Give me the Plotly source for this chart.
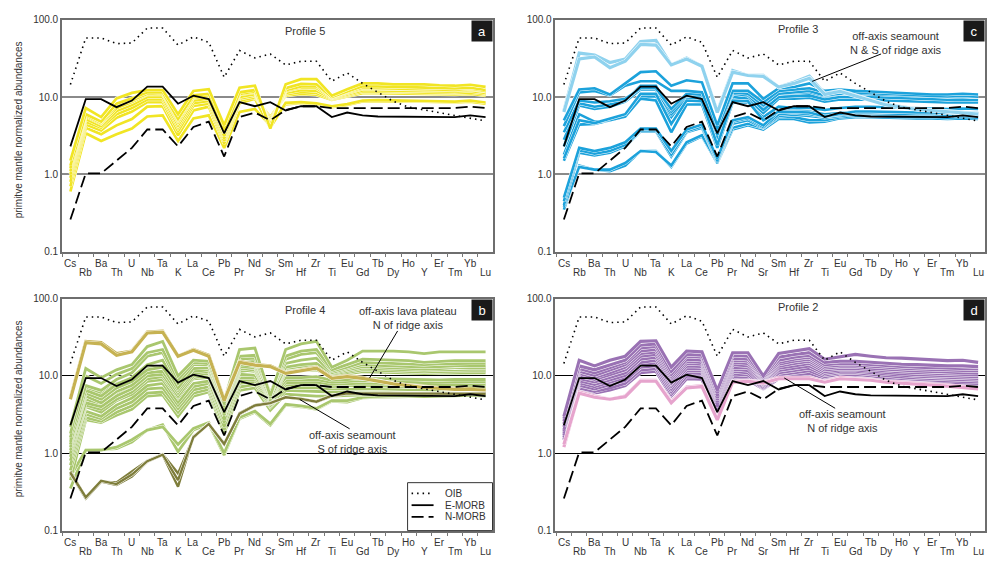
import plotly.graph_objects as go

ELEMENTS = ["Cs", "Rb", "Ba", "Th", "U", "Nb", "Ta", "K", "La", "Ce", "Pb", "Pr", "Nd", "Sr",
            "Sm", "Hf", "Zr", "Ti", "Eu", "Gd", "Tb", "Dy", "Ho", "Y", "Er", "Tm", "Yb", "Lu"]

OIB = [14.5, 58, 58, 49, 50, 78, 78, 47, 60, 51, 18, 40, 32, 36, 26, 29, 29, 16, 20.5, 15,
       11.5, 8.8, 7.4, 6.8, 6.3, 5.8, 5.3, 4.9]
EMORB = [2.3, 9.4, 9.4, 7.4, 9.0, 13.6, 13.6, 8.2, 10.4, 9.4, 3.4, 8.6, 7.6, 8.6, 6.7, 7.6, 7.6,
         5.5, 6.3, 5.8, 5.6, 5.6, 5.6, 5.6, 5.6, 5.5, 5.8, 5.5]
NMORB = [0.26, 1.03, 1.03, 1.5, 2.2, 3.8, 3.8, 2.3, 4.1, 4.8, 1.7, 5.5, 6.3, 5.0, 6.8, 7.6, 7.6,
         7.2, 7.2, 7.3, 7.3, 7.3, 7.3, 7.3, 7.3, 7.2, 7.5, 7.2]

# Panel a - Profile 5
PROFILE5 = [
    [0.6, 3.4, 2.7, 3.3, 3.9, 5.6, 5.8, 2.7, 5.3, 5.8, 2.2, 6.4, 7.0, 4.3, 8.0, 8.4, 8.1, 7.4, 7.9, 8.8, 8.8, 8.7, 8.7, 8.7, 8.6, 8.5, 8.7, 8.2],
    [0.7, 4.0, 3.3, 4.3, 5.2, 7.5, 7.6, 3.2, 6.7, 7.5, 2.5, 8.3, 9.5, 4.0, 8.4, 8.6, 8.3, 7.6, 8.1, 9.0, 9.1, 9.0, 9.0, 8.9, 8.8, 8.7, 9.0, 8.5],
    [0.8, 4.4, 3.7, 5.4, 6.5, 8.6, 8.6, 3.6, 7.7, 8.2, 2.7, 9.0, 9.9, 5.5, 10.4, 11.0, 10.7, 9.2, 10.2, 11.2, 11.2, 11.1, 11.0, 10.9, 10.8, 10.8, 11.0, 10.5],
    [0.9, 4.8, 4.0, 6.0, 7.2, 9.3, 9.3, 4.0, 8.3, 8.9, 2.9, 9.5, 10.4, 5.2, 10.8, 11.6, 11.3, 9.4, 10.5, 11.7, 11.7, 11.6, 11.5, 11.4, 11.3, 11.2, 11.5, 10.9],
    [1.0, 5.2, 4.2, 6.6, 7.9, 10.0, 10.0, 4.3, 9.0, 9.6, 3.1, 10.0, 10.9, 4.9, 11.3, 12.3, 12.0, 9.6, 10.8, 12.2, 12.2, 12.0, 12.0, 11.9, 11.8, 11.7, 12.0, 11.3],
    [1.1, 5.6, 4.5, 7.2, 8.6, 10.8, 10.8, 4.7, 9.7, 10.3, 3.4, 10.8, 11.5, 4.6, 12.0, 13.3, 13.0, 9.8, 11.2, 12.8, 12.8, 12.6, 12.6, 12.5, 12.3, 12.2, 12.5, 11.8],
    [1.2, 5.8, 4.6, 7.8, 9.0, 11.0, 11.2, 5.0, 10.0, 10.6, 3.5, 11.0, 11.8, 4.4, 12.3, 13.7, 13.8, 10.0, 11.5, 13.2, 13.0, 12.9, 12.8, 12.7, 12.5, 12.4, 12.8, 12.0],
    [1.3, 6.0, 4.8, 8.2, 9.6, 11.5, 11.5, 5.2, 10.5, 11.0, 3.7, 11.5, 12.3, 4.3, 13.0, 14.8, 14.6, 10.0, 11.8, 13.8, 13.7, 13.5, 13.4, 13.3, 13.0, 12.9, 13.2, 12.4],
    [1.5, 7.2, 5.5, 9.6, 11.3, 12.3, 12.3, 6.0, 12.0, 12.6, 4.3, 13.2, 14.0, 3.9, 14.6, 17.0, 17.0, 10.4, 12.6, 15.0, 15.0, 14.6, 14.6, 14.6, 14.2, 14.0, 14.4, 13.5],
]

# Panel c - Profile 3
PROFILE3 = [
    [0.35, 1.3, 1.15, 1.1, 1.3, 2.0, 2.0, 1.25, 2.5, 3.1, 1.4, 3.8, 4.3, 3.8, 5.2, 5.2, 4.7, 4.8, 5.3, 5.5, 5.5, 5.4, 5.4, 5.3, 5.3, 5.2, 5.3, 5.2],
    [0.38, 1.25, 1.15, 1.15, 1.4, 2.0, 1.95, 1.3, 2.6, 3.2, 1.45, 4.0, 4.5, 4.0, 5.5, 5.5, 5.0, 5.0, 5.5, 5.7, 5.7, 5.6, 5.6, 5.5, 5.5, 5.4, 5.5, 5.4],
    [0.4, 1.9, 1.75, 1.9, 2.3, 3.6, 3.6, 1.7, 3.5, 4.0, 1.45, 4.5, 5.0, 4.0, 5.7, 5.9, 5.7, 5.4, 5.7, 6.0, 6.0, 5.9, 5.9, 5.8, 5.8, 5.7, 5.8, 5.7],
    [0.45, 2.05, 1.85, 2.0, 2.4, 3.7, 3.7, 1.8, 3.6, 4.2, 1.5, 4.8, 5.3, 4.1, 6.0, 6.2, 6.0, 5.6, 5.9, 6.2, 6.2, 6.1, 6.1, 6.0, 6.0, 5.9, 6.0, 5.9],
    [0.5, 2.2, 2.0, 2.2, 2.6, 3.9, 3.9, 2.0, 3.8, 4.4, 1.6, 5.0, 5.5, 4.3, 6.5, 6.8, 6.5, 6.0, 6.2, 6.5, 6.5, 6.4, 6.4, 6.3, 6.3, 6.2, 6.3, 6.2],
    [1.5, 4.4, 4.5, 5.0, 5.6, 10.2, 10.2, 5.5, 10.0, 9.7, 2.6, 10.5, 10.0, 7.2, 11.0, 11.0, 11.0, 9.8, 10.5, 10.8, 10.6, 10.4, 10.3, 10.1, 10.0, 9.9, 10.0, 9.8],
    [1.8, 6.0, 4.8, 5.0, 5.6, 9.5, 9.0, 3.5, 8.0, 8.0, 2.2, 8.5, 8.5, 5.5, 7.5, 7.2, 7.3, 6.8, 7.2, 7.5, 7.5, 7.4, 7.3, 7.2, 7.1, 7.0, 7.1, 7.0],
    [2.3, 7.8, 7.0, 7.5, 8.7, 12.5, 12.5, 6.0, 9.5, 9.3, 2.9, 10.0, 9.5, 6.2, 9.5, 9.5, 9.8, 8.7, 9.3, 9.3, 9.2, 9.0, 8.9, 8.7, 8.6, 8.5, 8.6, 8.5],
    [2.8, 8.3, 7.5, 8.0, 9.0, 14.0, 14.0, 6.5, 10.5, 10.0, 3.2, 11.0, 10.5, 6.8, 10.0, 10.2, 10.5, 9.3, 10.0, 10.2, 10.0, 9.8, 9.6, 9.4, 9.3, 9.2, 9.3, 9.1],
    [3.5, 9.0, 8.5, 8.8, 9.5, 13.0, 13.0, 7.0, 11.0, 10.7, 3.5, 11.5, 11.0, 7.8, 11.0, 11.5, 12.0, 10.5, 11.0, 11.0, 10.8, 10.6, 10.5, 10.3, 10.2, 10.1, 10.2, 10.0],
    [1.6, 5.0, 4.6, 5.2, 6.0, 11.0, 11.0, 4.5, 9.0, 8.8, 2.4, 9.0, 8.8, 5.0, 6.5, 6.4, 6.3, 5.6, 6.0, 6.5, 6.5, 6.4, 6.4, 6.3, 6.3, 6.2, 6.3, 6.2],
    [4.2, 11.5, 12.0, 10.5, 14.0, 16.0, 16.0, 12.0, 12.0, 11.5, 3.9, 12.0, 12.0, 8.5, 12.0, 12.5, 13.0, 11.5, 12.0, 11.5, 11.2, 11.0, 10.8, 10.5, 10.3, 10.2, 10.3, 10.1],
    [5.0, 12.5, 13.0, 10.8, 15.0, 21.0, 21.5, 14.0, 16.5, 15.5, 4.3, 15.0, 15.0, 9.5, 13.0, 13.5, 15.0, 12.0, 12.5, 12.0, 11.8, 11.5, 11.3, 11.0, 10.8, 10.8, 11.0, 10.8],
]
PROFILE3_SEAMOUNT = [
    [6.6, 37, 35, 28, 31, 52, 54, 26, 32, 25, 6.5, 22, 19, 19, 13.5, 15.5, 18.6, 11.0, 12.0, 10.5, 9.0, 8.0, 7.5, 7.0, 6.8, 6.6, 6.4, 6.1],
    [6.4, 31, 33, 24, 29, 48, 47, 26, 31, 25, 6.3, 21, 19, 18.5, 13.5, 15.0, 17.5, 10.8, 11.8, 10.3, 8.9, 7.9, 7.4, 6.9, 6.7, 6.5, 6.3, 6.0],
]

# Panel b - Profile 4
PROFILE4 = [
    [0.35, 1.1, 1.12, 1.15, 1.4, 2.0, 2.35, 1.05, 2.0, 2.4, 0.95, 2.8, 3.4, 2.3, 4.2, 4.0, 3.7, 4.7, 4.6, 5.2, 5.3, 5.4, 5.4, 5.4, 5.5, 5.5, 5.6, 5.5],
    [0.5, 1.1, 1.1, 1.2, 1.5, 2.0, 2.2, 1.3, 2.1, 2.5, 1.0, 2.9, 3.5, 2.4, 4.3, 4.1, 3.8, 4.8, 4.8, 5.3, 5.4, 5.5, 5.5, 5.5, 5.6, 5.6, 5.7, 5.6],
    [0.45, 2.7, 2.5, 3.1, 3.7, 5.5, 5.7, 3.0, 5.5, 6.2, 1.8, 6.5, 7.0, 3.6, 5.8, 5.6, 5.5, 5.5, 5.6, 5.7, 5.6, 5.6, 5.5, 5.4, 5.5, 5.5, 5.6, 5.6],
    [0.6, 2.9, 2.6, 3.4, 4.1, 6.0, 6.2, 3.4, 6.0, 6.7, 2.0, 7.2, 7.8, 4.0, 6.5, 6.4, 6.3, 6.2, 6.3, 6.3, 6.2, 6.1, 6.0, 5.9, 5.9, 6.0, 6.0, 6.0],
    [0.7, 3.2, 2.8, 3.8, 4.6, 6.8, 7.0, 3.8, 6.6, 7.3, 2.2, 8.0, 8.5, 4.2, 7.0, 7.0, 7.0, 6.8, 6.9, 6.9, 6.8, 6.7, 6.6, 6.5, 6.5, 6.6, 6.6, 6.6],
    [0.8, 3.5, 3.0, 4.2, 5.2, 7.5, 8.0, 4.2, 7.3, 8.0, 2.5, 8.8, 9.0, 4.5, 7.6, 7.6, 7.6, 7.3, 7.5, 7.5, 7.4, 7.3, 7.2, 7.1, 7.1, 7.2, 7.2, 7.2],
    [0.9, 4.0, 3.4, 4.8, 5.8, 8.5, 9.0, 4.6, 8.0, 8.6, 2.7, 9.5, 9.6, 4.8, 8.2, 8.2, 8.3, 7.8, 8.0, 8.1, 8.0, 7.9, 7.8, 7.6, 7.7, 7.8, 7.8, 7.8],
    [1.2, 5.0, 4.2, 6.0, 7.0, 10.0, 10.5, 5.5, 9.2, 9.6, 3.0, 10.5, 10.2, 5.1, 8.8, 8.8, 9.0, 8.3, 8.5, 8.7, 8.6, 8.5, 8.4, 8.2, 8.3, 8.4, 8.4, 8.4],
    [1.5, 7.0, 6.0, 8.0, 9.0, 12.5, 13.5, 6.8, 11.5, 11.5, 3.6, 12.0, 11.5, 5.4, 9.5, 9.5, 9.8, 8.8, 9.0, 9.3, 9.2, 9.1, 9.0, 8.8, 8.9, 9.0, 9.0, 9.0],
    [1.0, 4.2, 3.7, 5.0, 6.2, 9.2, 9.8, 5.2, 9.5, 10.2, 3.1, 11.5, 12.0, 4.6, 11.2, 11.8, 12.0, 9.9, 10.6, 11.4, 11.2, 11.1, 11.0, 10.7, 10.9, 11.0, 11.0, 11.0],
    [1.1, 4.5, 4.0, 5.5, 6.8, 10.0, 10.5, 5.5, 10.0, 10.8, 3.3, 12.2, 12.8, 4.8, 12.0, 12.5, 12.8, 10.2, 11.0, 12.0, 11.8, 11.6, 11.5, 11.2, 11.4, 11.6, 11.6, 11.6],
    [1.2, 5.5, 4.5, 6.3, 7.6, 11.0, 11.5, 6.0, 10.8, 11.5, 3.5, 13.0, 13.5, 5.0, 12.5, 13.2, 13.5, 10.5, 11.5, 12.6, 12.4, 12.2, 12.0, 11.8, 12.0, 12.2, 12.2, 12.2],
    [1.3, 6.0, 5.0, 7.0, 8.5, 12.0, 13.0, 6.5, 11.5, 12.0, 3.8, 14.0, 14.5, 5.2, 13.0, 14.0, 14.5, 10.8, 12.0, 13.2, 13.0, 12.8, 12.6, 12.3, 12.5, 12.8, 12.8, 12.8],
    [1.4, 6.5, 5.5, 7.8, 9.5, 14.0, 16.0, 7.0, 12.5, 12.8, 4.0, 15.0, 15.5, 5.8, 14.5, 16.0, 17.0, 11.0, 12.5, 14.0, 13.7, 13.5, 13.3, 13.0, 13.2, 13.5, 13.5, 13.5],
    [1.6, 7.5, 6.5, 9.0, 11.0, 18.0, 20.0, 8.0, 14.0, 14.0, 4.2, 16.5, 17.0, 5.5, 16.5, 19.0, 20.0, 11.5, 13.0, 15.0, 14.8, 14.6, 14.5, 14.0, 14.3, 14.6, 14.6, 14.6],
    [1.8, 10.0, 8.0, 10.5, 12.5, 20.0, 22.0, 9.0, 15.0, 14.5, 4.4, 18.0, 18.5, 6.0, 18.0, 21.0, 22.0, 12.0, 14.0, 16.5, 16.3, 16.0, 15.8, 15.0, 15.5, 15.8, 15.8, 15.8],
    [2.2, 12.5, 9.5, 12.0, 14.0, 24.0, 28.0, 10.0, 16.0, 15.5, 4.8, 22.0, 23.0, 5.5, 22.0, 26.0, 28.0, 13.0, 16.0, 21.0, 21.0, 21.0, 20.5, 19.5, 20.5, 20.5, 20.5, 20.5],
]
PROFILE4_PLATEAU = [
    [5.2, 28, 27, 19.5, 21, 37, 38, 18, 22, 18.5, 5.0, 15.5, 14, 13.5, 11.0, 12.0, 13.0, 9.5, 10.0, 9.5, 8.6, 8.0, 7.6, 7.2, 7.0, 6.8, 6.8, 6.6],
    [5.0, 27, 26, 18.5, 20.5, 36, 37, 18, 21.5, 18, 4.8, 15.0, 13.8, 13.2, 10.8, 11.8, 12.6, 9.3, 9.8, 9.3, 8.5, 7.9, 7.5, 7.1, 6.9, 6.7, 6.7, 6.5],
]
PROFILE4_SEAMOUNT = [
    [0.58, 0.27, 0.43, 0.42, 0.58, 0.80, 0.97, 0.55, 1.6, 2.4, 1.35, 3.2, 4.1, 4.4, 5.3, 5.1, 4.7, 5.6, 6.0, 6.0, 6.0, 6.0, 6.0, 6.0, 6.0, 6.0, 6.1, 6.0],
    [0.55, 0.26, 0.43, 0.39, 0.50, 0.78, 0.95, 0.37, 1.65, 2.4, 1.30, 3.3, 4.2, 4.5, 5.3, 5.0, 4.6, 5.5, 5.9, 5.9, 5.9, 5.9, 5.9, 5.9, 5.9, 5.9, 6.0, 5.9],
    [0.56, 0.27, 0.44, 0.40, 0.53, 0.79, 0.96, 0.45, 1.62, 2.4, 1.32, 3.25, 4.15, 4.45, 5.3, 5.05, 4.65, 5.55, 5.95, 5.95, 5.9, 5.9, 5.9, 5.9, 5.9, 5.9, 6.0, 5.9],
]

# Panel d - Profile 2
PROFILE2 = [
    [1.5, 6.6, 6.0, 6.6, 7.5, 11.0, 11.5, 5.5, 9.2, 9.1, 2.8, 9.0, 8.9, 6.8, 9.2, 9.5, 10.0, 8.8, 9.6, 9.6, 9.2, 8.8, 8.5, 8.2, 8.0, 7.9, 7.8, 7.6],
    [1.5, 7.0, 6.3, 7.0, 8.0, 12.0, 12.4, 5.8, 10.0, 9.9, 3.1, 9.8, 9.6, 6.9, 9.7, 10.2, 10.8, 9.3, 10.0, 10.0, 9.6, 9.2, 8.9, 8.6, 8.4, 8.2, 8.1, 8.0],
    [1.6, 7.6, 6.8, 7.7, 8.8, 13.0, 13.6, 6.3, 11.0, 10.8, 3.4, 10.6, 10.3, 7.1, 10.3, 11.0, 11.7, 9.8, 10.5, 10.5, 10.0, 9.6, 9.3, 9.0, 8.8, 8.6, 8.5, 8.4],
    [1.7, 8.2, 7.3, 8.3, 9.5, 14.0, 14.8, 6.8, 11.7, 11.6, 3.7, 11.4, 11.0, 7.4, 11.0, 11.8, 12.6, 10.3, 11.0, 11.0, 10.5, 10.0, 9.7, 9.4, 9.2, 9.0, 8.9, 8.8],
    [1.8, 8.7, 7.8, 9.0, 10.2, 15.0, 16.0, 7.4, 12.5, 12.4, 4.0, 12.2, 11.8, 7.7, 11.8, 12.6, 13.5, 10.8, 11.5, 11.5, 11.0, 10.5, 10.2, 9.9, 9.7, 9.5, 9.4, 9.3],
    [1.9, 9.3, 8.4, 9.6, 11.0, 16.5, 17.5, 8.0, 13.5, 13.3, 4.3, 13.0, 12.7, 8.0, 12.6, 13.5, 14.5, 11.4, 12.0, 12.0, 11.5, 11.0, 10.7, 10.4, 10.2, 10.0, 9.9, 9.8],
    [2.0, 10.0, 9.0, 10.3, 12.0, 18.0, 19.0, 8.6, 14.5, 14.2, 4.6, 14.0, 13.6, 8.3, 13.4, 14.5, 15.5, 12.0, 12.5, 12.5, 12.0, 11.6, 11.3, 11.0, 10.8, 10.6, 10.5, 10.3],
    [2.2, 10.8, 9.6, 11.0, 13.0, 19.5, 20.5, 9.2, 15.5, 15.0, 4.9, 15.0, 14.5, 8.6, 14.2, 15.5, 16.5, 12.6, 13.2, 13.2, 12.6, 12.2, 11.9, 11.6, 11.4, 11.2, 11.1, 10.9],
    [2.4, 11.5, 10.2, 12.0, 14.0, 21.0, 22.0, 9.8, 16.5, 16.0, 5.2, 16.0, 15.5, 8.9, 15.0, 16.5, 17.5, 13.3, 13.8, 13.8, 13.3, 13.0, 12.6, 12.3, 12.1, 11.9, 11.8, 11.6],
    [2.6, 12.5, 11.0, 13.0, 15.0, 23.0, 24.0, 10.5, 18.0, 17.5, 5.6, 17.0, 16.5, 9.2, 16.0, 17.5, 18.5, 14.0, 14.5, 14.5, 14.0, 13.7, 13.3, 13.0, 12.8, 12.6, 12.5, 12.3],
    [2.8, 13.5, 12.0, 14.0, 16.0, 25.0, 26.0, 11.5, 19.0, 18.5, 6.0, 18.5, 18.0, 9.5, 17.5, 19.0, 20.0, 15.0, 15.5, 15.5, 15.0, 14.5, 14.2, 14.0, 13.7, 13.5, 13.5, 13.2],
    [3.0, 16.0, 13.5, 16.0, 18.0, 28.0, 28.5, 13.0, 21.0, 20.5, 6.5, 20.0, 20.0, 10.0, 19.5, 21.0, 22.5, 16.5, 17.5, 19.0, 18.0, 17.2, 17.0, 16.7, 16.3, 15.8, 16.0, 15.0],
]
PROFILE2_SEAMOUNT = [
    [1.2, 6.2, 5.5, 5.0, 5.5, 8.8, 8.8, 4.7, 7.2, 7.5, 2.8, 8.5, 8.7, 8.3, 9.5, 9.5, 9.5, 8.5, 9.5, 9.2, 9.0, 8.5, 8.2, 8.0, 7.8, 7.6, 7.3, 7.0],
    [1.3, 6.0, 5.3, 5.0, 5.4, 8.6, 8.6, 4.5, 7.0, 7.3, 2.7, 8.3, 8.5, 8.1, 9.2, 9.2, 9.2, 8.3, 9.2, 9.0, 8.8, 8.3, 8.0, 7.8, 7.6, 7.4, 7.1, 6.8],
]

LEGEND_NAMES = ["OIB", "E-MORB", "N-MORB"]

W, H = 987, 565
FONT = "Liberation Sans, Arial, sans-serif"


def px_x(x):
    return x / W


def px_y(y):
    return (H - y) / H


PANELS = {
    # key: (axis suffix, x px range, y px range, title, gridcolor, gridwidth)
    "a": ("", (62, 493), (14, 251), "Profile 5", "#8a8a8a", 2),
    "c": ("2", (556, 986), (14, 251), "Profile 3", "#8a8a8a", 2),
    "b": ("3", (62, 493), (299, 536), "Profile 4", "#000000", 1),
    "d": ("4", (556, 986), (299, 536), "Profile 2", "#000000", 1),
}

GROUPS = {
    "a": [(PROFILE5, "#F1E524", 2.7)],
    "c": [(PROFILE3, "#1CA2DB", 2.6), (PROFILE3_SEAMOUNT, "#8FD2EE", 3.2)],
    "b": [(PROFILE4, "#A9C76E", 2.8), (PROFILE4_PLATEAU, "#C6B252", 3.2),
          (PROFILE4_SEAMOUNT, "#7E7D3B", 2.4)],
    "d": [(PROFILE2, "#9A72B4", 3.1), (PROFILE2_SEAMOUNT, "#E6A4CD", 3.2)],
}

REF_STYLES = [
    (OIB, dict(color="black", width=1.6, dash="1.5px,4px")),
    (EMORB, dict(color="black", width=1.8)),
    (NMORB, dict(color="black", width=1.8, dash="12px,5px")),
]

fig = go.Figure()
annotations = []
shapes = []
layout = {}


def txt(text, x, y, size=11, **kw):
    d = dict(text=text, xref="paper", yref="paper", x=px_x(x), y=px_y(y),
             xanchor="center", yanchor="middle", showarrow=False,
             font=dict(size=size, color="#333", family=FONT))
    d.update(kw)
    return d


for key, (sfx, (x0, x1), (y0, y1), title, gcol, gw) in PANELS.items():
    xa, ya = "x" + sfx, "y" + sfx
    for lines, color, width in GROUPS[key]:
        for vals in lines:
            fig.add_trace(go.Scatter(x=ELEMENTS, y=vals, xaxis=xa, yaxis=ya, mode="lines",
                                     line=dict(color="white", width=width + 0.9),
                                     showlegend=False, hoverinfo="skip"))
            fig.add_trace(go.Scatter(x=ELEMENTS, y=vals, xaxis=xa, yaxis=ya, mode="lines",
                                     line=dict(color=color, width=width),
                                     showlegend=False))
    for (vals, st), name in zip(REF_STYLES, LEGEND_NAMES):
        fig.add_trace(go.Scatter(x=ELEMENTS, y=vals, xaxis=xa, yaxis=ya, mode="lines",
                                 name=name, line=st, showlegend=False))

    layout["xaxis" + sfx] = dict(
        domain=[px_x(x0), px_x(x1)], anchor=ya, type="category",
        categoryorder="array", categoryarray=ELEMENTS,
        range=[-0.55, 27.45], showticklabels=False, tickson="boundaries",
        ticks="outside", ticklen=4, tickcolor="#777", tickwidth=1,
        showline=True, mirror=True, linecolor="#6e6e6e", linewidth=1.5,
        showgrid=False, zeroline=False, fixedrange=True)
    layout["yaxis" + sfx] = dict(
        domain=[px_y(y1), px_y(y0)], anchor=xa, type="log", range=[-1, 2],
        tickvals=[0.1, 1, 10, 100], ticktext=["0.1", "1.0", "10.0", "100.0"],
        tickfont=dict(size=10, color="#333", family=FONT), ticks="",
        showline=True, mirror=True, linecolor="#6e6e6e", linewidth=1.5,
        showgrid=True, gridcolor=gcol, gridwidth=gw, zeroline=False, fixedrange=True)

    # element labels in two staggered rows
    for i, el in enumerate(ELEMENTS):
        annotations.append(dict(text=el, xref=xa, x=el, yref="paper", y=px_y(y1),
                                yshift=-(12 if i % 2 == 0 else 21), yanchor="middle",
                                xanchor="center", showarrow=False,
                                font=dict(size=10, color="#333", family=FONT)))
    # panel letter box
    annotations.append(dict(text=key, xref="paper", yref="paper", x=px_x(x1), y=px_y(y0),
                            xanchor="right", yanchor="top", showarrow=False, width=20, height=20,
                            bgcolor="#1a1a1a", borderpad=0,
                            font=dict(size=13, color="white", family=FONT)))
    # profile title
    annotations.append(txt(title, x0 + 243, y0 + 12 if key in "ab" else y0 + 9))

# y axis titles (left panels)
for yc in (126, 411):
    annotations.append(txt("primitve mantle normalized abundances", 18, yc, size=10,
                           textangle=-90))

# callout texts
CALLOUTS = [
    ("off-axis seamount<br>N & S of ridge axis", 897, 38),
    ("off-axis lava plateau<br>N of ridge axis", 408, 319),
    ("off-axis seamount<br>S of ridge axis", 353, 445),
    ("off-axis seamount<br>N of ridge axis", 843, 424),
]
for t, cx, cy in CALLOUTS:
    annotations.append(txt(t, cx, cy))

LEADERS = [((882, 49), (813, 77)), ((398, 332), (370, 380)),
           ((350, 432), (300, 402)), ((836, 411), (785, 380))]
for (ax0, ay0), (ax1, ay1) in LEADERS:
    shapes.append(dict(type="line", xref="paper", yref="paper", x0=px_x(ax0), y0=px_y(ay0),
                       x1=px_x(ax1), y1=px_y(ay1), line=dict(color="black", width=1)))

# legend box in panel b
shapes.append(dict(type="rect", xref="paper", yref="paper", x0=px_x(408), x1=px_x(493),
                   y0=px_y(536), y1=px_y(487), line=dict(color="#333", width=1),
                   fillcolor="white", layer="above"))
for k, ((vals, st), name) in enumerate(zip(REF_STYLES, LEGEND_NAMES)):
    yy = 498 + 12 * k
    shapes.append(dict(type="line", xref="paper", yref="paper", x0=px_x(412), x1=px_x(434),
                       y0=px_y(yy), y1=px_y(yy), layer="above",
                       line=dict(color=st["color"], width=st["width"], dash=st.get("dash", "solid"))))
    annotations.append(txt(name, 443, yy, size=10, xanchor="left"))

fig.update_layout(
    width=W, height=H, margin=dict(l=0, r=0, t=0, b=0),
    paper_bgcolor="white", plot_bgcolor="white", showlegend=False,
    font=dict(family=FONT, size=10, color="#333"),
    annotations=annotations, shapes=shapes,
    **layout,
)

fig.write_html("out.html")
